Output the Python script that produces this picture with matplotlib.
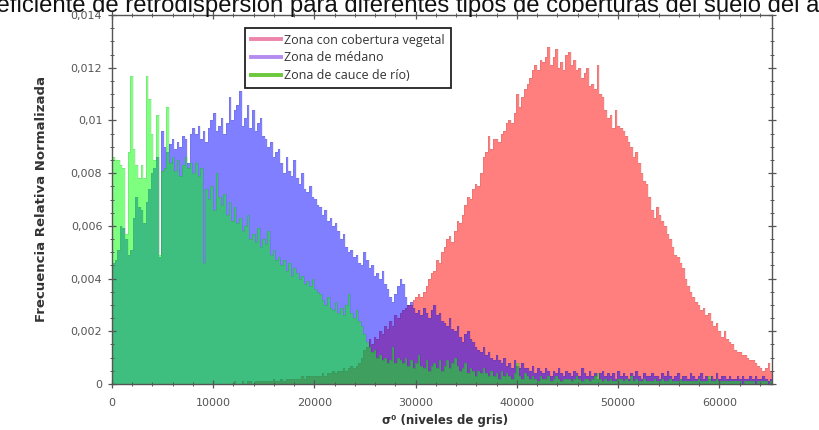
import numpy as np
import matplotlib
matplotlib.use("Agg")
import matplotlib.pyplot as plt
from matplotlib.ticker import MultipleLocator, FuncFormatter
from matplotlib.lines import Line2D

# -------- Data: normalized histograms, 256 bins of 256 grey levels --------
# heights are in units of 1e-4, one row = 16 bins (4096 grey levels)
BIN_WIDTH = 256
N_BINS = 256

vegetal = [
    0, 0, 0, 0, 0, 0, 0, 0, 0, 0, 0, 0, 0, 0, 0, 0,
    0, 0, 0, 0, 0, 0, 0, 0, 0, 0, 0, 0, 0, 0, 0, 0,
    0, 0, 0, 0, 0, 0, 0, 0, 0, 0, 0, 0, 0, 0, 0, 1,
    0, 0, 1, 0, 1, 1, 0, 1, 1, 1, 1, 1, 1, 1, 2, 1,
    1, 2, 1, 2, 2, 2, 2, 2, 2, 3, 2, 3, 3, 3, 3, 3,
    3, 4, 3, 4, 4, 5, 4, 5, 5, 6, 5, 6, 7, 6, 7, 8,
    10, 13, 14, 17, 15, 18, 17, 20, 19, 22, 21, 24, 22, 26, 25, 27,
    28, 29, 30, 30, 32, 33, 34, 33, 35, 37, 40, 42, 43, 47, 46, 50,
    52, 55, 56, 54, 58, 62, 61, 64, 68, 71, 70, 74, 76, 75, 80, 86,
    88, 94, 89, 93, 93, 92, 95, 96, 99, 100, 99, 103, 110, 105, 109, 112,
    114, 116, 119, 121, 119, 123, 122, 124, 128, 121, 124, 127, 120, 122, 119, 125,
    126, 121, 123, 119, 120, 116, 118, 120, 113, 114, 112, 121, 110, 109, 104, 101,
    102, 97, 104, 98, 97, 96, 94, 92, 90, 86, 88, 84, 80, 77, 76, 71,
    66, 63, 67, 64, 62, 60, 57, 55, 52, 49, 48, 46, 44, 40, 37, 35,
    33, 31, 30, 28, 29, 26, 27, 24, 22, 23, 20, 18, 20, 17, 16, 15,
    13, 12, 12, 11, 11, 10, 9, 9, 8, 7, 6, 5, 6, 8, 5, 4,
]

medano = [
    46, 47, 51, 60, 59, 55, 49, 51, 63, 71, 67, 66, 61, 69, 74, 80,
    82, 86, 48, 96, 90, 88, 91, 93, 89, 92, 90, 94, 93, 84, 95, 97,
    95, 98, 93, 96, 92, 97, 100, 103, 96, 98, 101, 95, 99, 109, 100, 104,
    106, 111, 98, 101, 106, 97, 104, 96, 99, 101, 94, 93, 90, 92, 86, 88,
    89, 84, 80, 86, 81, 79, 85, 78, 76, 80, 74, 73, 75, 71, 70, 68,
    67, 64, 66, 62, 63, 60, 61, 58, 55, 57, 52, 50, 51, 48, 49, 46,
    45, 50, 47, 44, 45, 41, 42, 40, 43, 38, 36, 33, 31, 34, 37, 40,
    38, 33, 30, 31, 29, 27, 28, 26, 29, 27, 25, 28, 30, 26, 27, 24,
    23, 22, 25, 21, 20, 22, 18, 16, 19, 20, 17, 16, 14, 13, 12, 14,
    11, 12, 10, 9, 11, 9, 8, 10, 7, 8, 6, 9, 7, 6, 8, 6,
    6, 5, 7, 4, 6, 5, 4, 6, 5, 3, 5, 4, 6, 4, 3, 5,
    4, 3, 5, 4, 3, 6, 4, 3, 5, 3, 4, 2, 4, 5, 3, 4,
    3, 4, 2, 5, 3, 4, 3, 2, 4, 3, 5, 3, 2, 4, 3, 3,
    4, 3, 3, 2, 4, 3, 5, 3, 2, 3, 4, 2, 3, 3, 2, 4,
    3, 2, 3, 4, 2, 3, 2, 3, 2, 4, 2, 3, 3, 2, 3, 2,
    2, 3, 2, 3, 2, 2, 3, 2, 3, 2, 2, 3, 2, 1, 2, 2,
]

cauce = [
    86, 85, 85, 83, 82, 57, 88, 117, 89, 83, 78, 83, 78, 117, 108, 95,
    85, 102, 49, 81, 82, 105, 84, 86, 81, 85, 79, 83, 86, 82, 84, 80,
    84, 79, 82, 46, 74, 70, 75, 66, 80, 71, 68, 72, 64, 69, 62, 67,
    61, 63, 58, 60, 64, 55, 57, 54, 59, 52, 55, 53, 58, 49, 51, 47,
    48, 45, 47, 43, 46, 41, 44, 42, 40, 41, 38, 39, 37, 40, 36, 35,
    34, 32, 30, 33, 29, 28, 31, 27, 29, 26, 30, 34, 27, 25, 28, 24,
    22, 19, 16, 14, 12, 13, 10, 11, 9, 10, 8, 9, 14, 8, 10, 9,
    8, 10, 7, 9, 6, 8, 11, 7, 6, 9, 5, 7, 8, 6, 9, 5,
    7, 9, 6, 8, 10, 7, 5, 6, 8, 4, 6, 5, 3, 5, 4, 6,
    4, 3, 5, 3, 4, 2, 5, 3, 4, 3, 2, 4, 8, 3, 2, 4,
    3, 2, 3, 2, 1, 3, 2, 2, 3, 1, 2, 3, 2, 1, 2, 2,
    2, 1, 2, 3, 2, 1, 2, 2, 1, 2, 3, 4, 2, 1, 2, 1,
    2, 1, 1, 2, 2, 1, 2, 1, 3, 1, 2, 1, 1, 2, 1, 1,
    1, 2, 1, 1, 2, 1, 1, 2, 1, 1, 1, 2, 1, 1, 1, 1,
    1, 1, 2, 1, 1, 1, 3, 1, 1, 2, 1, 1, 1, 1, 1, 1,
    1, 1, 1, 0, 1, 1, 1, 1, 0, 1, 1, 1, 1, 0, 1, 1,
]

labels = ["Zona con cobertura vegetal", "Zona de médano", "Zona de cauce de río)"]
fill_colors = ["#ff0000", "#0000ff", "#00ff00"]
legend_colors = ["#ec84ac", "#b48cf0", "#6cc83c"]

TITLE = "Coeficiente de retrodispersión para diferentes tipos de coberturas del suelo del área de estudio"
TITLE_SIZE = 17.2

edges = np.arange(N_BINS + 1) * BIN_WIDTH

# -------- Figure ----------
fig = plt.figure(figsize=(8.19, 4.30), dpi=100)
ax = fig.add_axes([112 / 819, 46 / 430, 660 / 819, 369 / 430])

for vals, col in zip([vegetal, medano, cauce], fill_colors):
    h = np.array(vals, dtype=float) * 1e-4
    ax.stairs(h, edges, fill=True, color=col, alpha=0.5, lw=0)
    ax.stairs(h, edges, color="k", alpha=0.09, lw=0.6)

ax.set_xlim(0, 65200)
ax.set_ylim(0, 0.014)

ax.xaxis.set_major_locator(MultipleLocator(10000))
ax.xaxis.set_minor_locator(MultipleLocator(2000))
ax.yaxis.set_major_locator(MultipleLocator(0.002))
ax.yaxis.set_minor_locator(MultipleLocator(0.0005))
ax.yaxis.set_major_formatter(FuncFormatter(lambda v, p: "{:g}".format(round(v, 6)).replace(".", ",")))

ax.tick_params(which="both", direction="inout", top=True, right=True, colors="#555555")
ax.tick_params(which="major", length=6, width=0.9)
ax.tick_params(which="minor", length=3, width=0.7)
ax.tick_params(axis="x", which="major", labelsize=8, pad=7, labelcolor="#555555")
ax.tick_params(axis="y", which="major", labelsize=8, pad=4, labelcolor="#555555")
for s in ax.spines.values():
    s.set_color("#555555")
    s.set_linewidth(1.0)

ax.set_xlabel("σ⁰ (niveles de gris)", fontsize=8.5, fontweight="bold", color="#333333")
ax.xaxis.set_label_coords(0.505, -0.08)
ax.set_ylabel("Frecuencia Relativa Normalizada", fontsize=9.5, fontweight="bold", color="#333333")
ax.yaxis.set_label_coords(-0.097, 0.5)

handles = [Line2D([], [], color=c, lw=2.8) for c in legend_colors]
leg = ax.legend(handles, labels, loc="upper left", bbox_to_anchor=(0.2015, 0.965),
                borderaxespad=0, fancybox=False, framealpha=1, handlelength=2.4,
                handletextpad=0.3, labelspacing=0.38, borderpad=0.45,
                prop={"family": "Open Sans", "size": 9})
leg.get_frame().set_edgecolor("#222222")
leg.get_frame().set_linewidth(1.3)
for t in leg.get_texts():
    t.set_color("#333333")

# title runs wider than the figure: shift it so "Co" falls off the left edge
fig.canvas.draw()
r = fig.canvas.get_renderer()
probe = fig.text(0, 0, "Co", fontsize=TITLE_SIZE, family="Liberation Sans")
w_co = probe.get_window_extent(renderer=r).width
probe.remove()
fig.text(-(w_co + 3) / fig.bbox.width, 1 - 12 / 430, TITLE, fontsize=TITLE_SIZE,
         family="Liberation Sans", ha="left", va="baseline", color="#111111")

fig.savefig("out.png", dpi=100)
